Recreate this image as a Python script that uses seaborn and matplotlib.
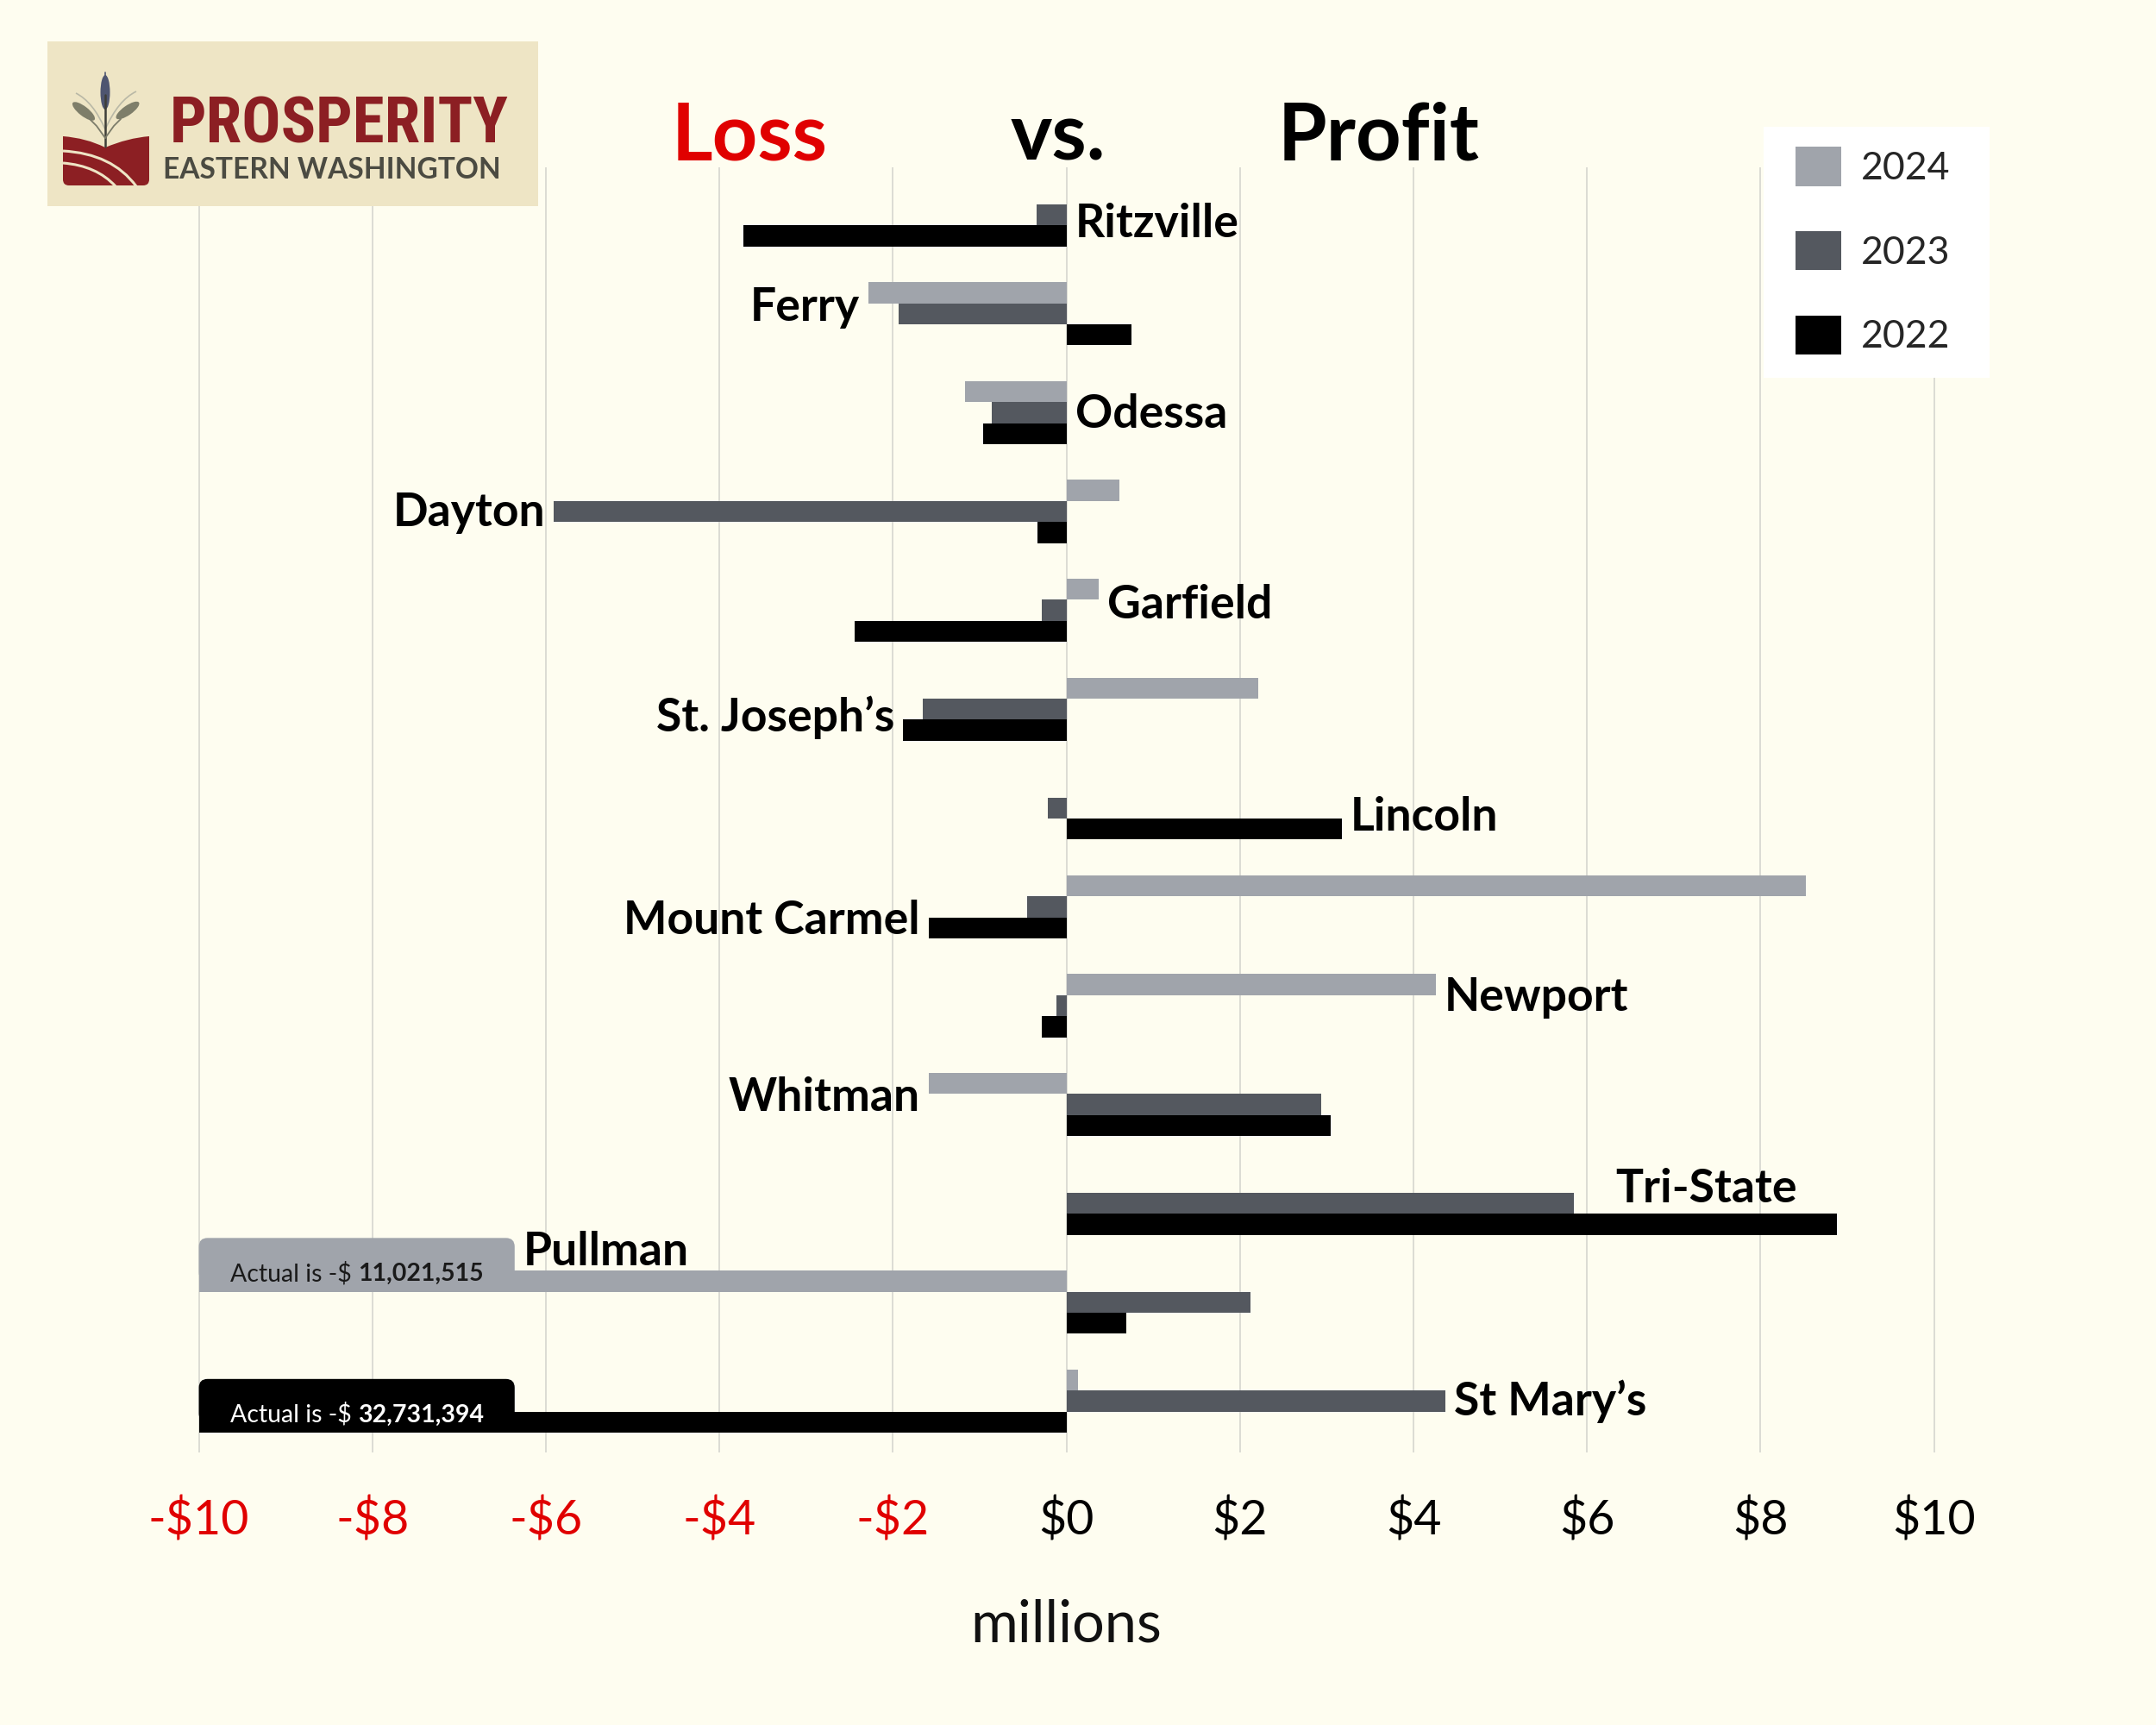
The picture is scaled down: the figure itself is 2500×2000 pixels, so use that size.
import numpy as np
import pandas as pd
import matplotlib
matplotlib.use("Agg")
import matplotlib.pyplot as plt
import seaborn as sns
from matplotlib import font_manager
from matplotlib.patches import FancyBboxPatch, Rectangle, Ellipse, PathPatch
from matplotlib.path import Path

# ---------------- data ----------------
categories = ["Ritzville", "Ferry", "Odessa", "Dayton", "Garfield", "St. Joseph\u2019s",
              "Lincoln", "Mount Carmel", "Newport", "Whitman", "Tri-State", "Pullman",
              "St Mary\u2019s"]
years = ["2024", "2023", "2022"]
# values in millions of dollars
values_2024 = [0.0, -2.28, -1.17, 0.61, 0.37, 2.21, 0.0, 8.52, 4.26, -1.59, 0.0, -11.021515, 0.13]
values_2023 = [-0.34, -1.93, -0.86, -5.91, -0.28, -1.66, -0.21, -0.45, -0.12, 2.94, 5.85, 2.12, 4.37]
values_2022 = [-3.72, 0.75, -0.96, -0.33, -2.44, -1.88, 3.17, -1.59, -0.28, 3.05, 8.88, 0.69, -32.731394]
x_ticks = [-10, -8, -6, -4, -2, 0, 2, 4, 6, 8, 10]
tick_labels = ["-$10", "-$8", "-$6", "-$4", "-$2", "$0", "$2", "$4", "$6", "$8", "$10"]
x_label = "millions"
title_words = ["Loss", "vs.", "Profit"]
logo_title = "PROSPERITY"
logo_subtitle = "EASTERN WASHINGTON"
callout_prefix = "Actual is -$ "

# ---------------- style ----------------
X_FLOOR = -10.0
BG = "#FEFDF0"
RED = "#E00000"
palette = {"2024": "#A0A4AB", "2023": "#54585F", "2022": "#000000"}
sns.set_style("white")
plt.rcParams["font.family"] = ["Lato", "DejaVu Sans"]


def pick_condensed():
    names = {f.name for f in font_manager.fontManager.ttflist}
    for n in ["Roboto Condensed", "Open Sans Condensed", "Liberation Sans Narrow",
              "Noto Sans Condensed", "DejaVu Sans Condensed"]:
        if n in names:
            return font_manager.FontProperties(family=n, weight="bold")
    for f in font_manager.fontManager.ttflist:
        if f.name == "DejaVu Sans" and f.stretch == "condensed":
            return font_manager.FontProperties(family="DejaVu Sans", stretch="condensed",
                                               weight="bold")
    return font_manager.FontProperties(family="Roboto", weight="bold")


series = {"2024": values_2024, "2023": values_2023, "2022": values_2022}
rows = []
for y in years:
    for c, v in zip(categories, series[y]):
        rows.append({"category": c, "year": y, "value": v, "shown": max(v, X_FLOOR)})
df = pd.DataFrame(rows)

W, H = 2500, 2000
fig = plt.figure(figsize=(25, 20), dpi=100, facecolor=BG)
ax = fig.add_axes([200.4 / W, 1 - 1684 / H, 2072.4 / W, 1489.8 / H])
ax.set_facecolor(BG)

sns.barplot(data=df, y="category", x="shown", hue="year", order=categories, hue_order=years,
            palette=palette, orient="h", width=0.64, dodge=True, saturation=1,
            errorbar=None, linewidth=0, ax=ax, zorder=2)

ax.set_xlim(-10.3, 10.3)
ax.set_ylim(len(categories) - 1 + 0.52, -0.48)
for s in ax.spines.values():
    s.set_visible(False)
ax.set_xticks(x_ticks)
ax.set_xticklabels(tick_labels, fontsize=40)
for t, v in zip(ax.get_xticklabels(), x_ticks):
    t.set_color(RED if v < 0 else "black")
ax.tick_params(axis="x", length=0, pad=38)
ax.set_yticks([])
ax.set_ylabel("")
ax.set_xlabel(x_label, fontsize=48, labelpad=46, color="#111111")
ax.grid(axis="x", color="#D9D9D2", linewidth=1.3, zorder=0)
ax.grid(axis="y", visible=False)
ax.set_axisbelow(True)

# legend
handles, labels = ax.get_legend_handles_labels()
if ax.get_legend() is not None:
    ax.get_legend().remove()
ax.add_patch(Rectangle((2045 / W, 1 - 438 / H), 262 / W, 291 / H, transform=fig.transFigure,
                       facecolor="white", edgecolor="none", clip_on=False, zorder=4))
leg = ax.legend(handles, labels, loc="upper left", bbox_to_anchor=(2082 / W, 1 - 170 / H),
                bbox_transform=fig.transFigure, frameon=False, fontsize=32, handlelength=1.2,
                handleheight=1.2, labelspacing=1.17, borderpad=0, handletextpad=0.5,
                borderaxespad=0)
leg.set_zorder(5)

# bar geometry from the drawn containers
bars = {y: list(ax.containers[i]) for i, y in enumerate(years)}

# callouts for truncated bars
CALLOUT_W = 3.64
x_per_px = 20.6 / 2072.4
y_per_px = 13.0 / 1489.8
for y in years:
    for i, v in enumerate(series[y]):
        if v < X_FLOOR:
            r = bars[y][i]
            top = r.get_y()
            h = r.get_height()
            box_top = top - 0.33
            dark = palette[y] == "#000000"
            box = FancyBboxPatch((X_FLOOR, box_top), CALLOUT_W, (top + h / 2) - box_top,
                                 boxstyle="round,pad=0,rounding_size=0.1",
                                 mutation_aspect=y_per_px / x_per_px,
                                 facecolor=palette[y], edgecolor="none", zorder=1.9)
            ax.add_patch(box)
            tc = "white" if dark else "#1A1A1A"
            t1 = ax.text(X_FLOOR + 0.36, top + 0.03, callout_prefix, fontsize=20.5, color=tc,
                         ha="left", va="center", zorder=6)
            ax.annotate(f"{abs(round(v * 1e6)):,}", xy=(1, 0), xycoords=t1, xytext=(0, 0),
                        textcoords="offset points", ha="left", va="bottom", fontsize=20.5,
                        fontweight="bold", color=tc, zorder=6)

# category labels next to bars
label_anchor = ["zero", "2024", "zero", "2023", "2024", "2022", "2022", "2022", "2024", "2024",
                "2022", "callout", "2023"]
label_side = ["right", "left", "right", "left", "right", "left", "right", "left", "right",
              "left", "inside", "right", "right"]
label_dy = [0.09, -0.06, 0.02, 0.01, -0.05, 0.08, 0.09, 0.14, -0.08, -0.07, -0.15, -0.51, 0.0]
PAD = 0.1
for i, c in enumerate(categories):
    a = label_anchor[i]
    if a == "zero":
        xa = 0.0
    elif a == "callout":
        xa = X_FLOOR + CALLOUT_W
    else:
        xa = bars[a][i].get_width()
    side = label_side[i]
    if side == "right":
        xt, ha = xa + PAD, "left"
    elif side == "left":
        xt, ha = xa - PAD, "right"
    else:
        xt, ha = xa - 0.46, "right"
    ax.text(xt, i + label_dy[i], c, fontsize=38.5, fontweight="bold", ha=ha, va="center",
            color="black", zorder=6)

# title words
title_x = [869, 1227, 1599]
title_c = [RED, "black", "black"]
for w, xx, cc in zip(title_words, title_x, title_c):
    fig.text(xx / W, 1 - 159 / H, w, fontsize=66, fontweight="bold", color=cc,
             ha="center", va="center")

# ---------------- logo ----------------
LOGO_BG = "#EEE5C5"
lax = fig.add_axes([55 / W, 1 - 239 / H, 569 / W, 191 / H], zorder=10)
lax.set_xlim(55, 624)
lax.set_ylim(239, 48)
lax.set_facecolor(LOGO_BG)
lax.set_xticks([])
lax.set_yticks([])
for s in lax.spines.values():
    s.set_visible(False)
LOGO_RED = "#8C1F23"
fig.canvas.draw()
renderer = fig.canvas.get_renderer()


def fit_text(x0, x1, ybase, s, fp, color, fs0):
    t = lax.text(x0, ybase, s, fontproperties=fp, color=color, ha="left", va="baseline")
    t.set_fontsize(fs0)
    wpx = t.get_window_extent(renderer).width
    t.set_fontsize(fs0 * (x1 - x0) / wpx)
    return t


fit_text(197, 591, 166, logo_title, pick_condensed(), LOGO_RED, 50)
fit_text(189, 581, 207, logo_subtitle,
         font_manager.FontProperties(family=["Lato", "DejaVu Sans"], weight="bold"),
         "#4B4B42", 24)

# field icon
field = Path([(73, 158), (100, 160), (122, 171), (148, 160), (173, 158),
              (173, 208), (173, 215), (166, 215),
              (80, 215), (73, 215), (73, 208), (73, 158)],
             [Path.MOVETO, Path.CURVE3, Path.CURVE3, Path.CURVE3, Path.CURVE3,
              Path.LINETO, Path.CURVE3, Path.CURVE3,
              Path.LINETO, Path.CURVE3, Path.CURVE3, Path.CLOSEPOLY])
lax.add_patch(PathPatch(field, facecolor=LOGO_RED, edgecolor="none"))
for (p0, p1, p2) in [((73, 175), (130, 178), (158, 216)), ((73, 189), (112, 192), (134, 216))]:
    lax.add_patch(PathPatch(Path([p0, p1, p2], [Path.MOVETO, Path.CURVE3, Path.CURVE3]),
                            facecolor="none", edgecolor=LOGO_BG, lw=2.2))
# wheat
lax.plot([122, 122], [170, 110], color="#3E3E38", lw=1.8)
for (x0, y0, x1, y1) in [(122, 150, 88, 108), (122, 150, 158, 106)]:
    lax.add_patch(PathPatch(Path([(x0, y0), ((x0 + x1) / 2 + (3 if x1 < x0 else -3), y1 + 10), (x1, y1)],
                                 [Path.MOVETO, Path.CURVE3, Path.CURVE3]),
                            facecolor="none", edgecolor="#B9B8A6", lw=1.2))
lax.plot([122, 112, 104], [160, 146, 138], color="#7C7C6A", lw=1.3)
lax.plot([122, 132, 140], [160, 146, 138], color="#7C7C6A", lw=1.3)
for (cx, cy, w, h, ang, col) in [(122, 107, 40, 11, 90, "#4E5570"),
                                 (97, 129, 32, 11, 38, "#7E7E6A"),
                                 (148, 128, 32, 11, -35, "#7E7E6A")]:
    lax.add_patch(Ellipse((cx, cy), w, h, angle=ang, facecolor=col, edgecolor="none"))
lax.plot([122, 122], [84, 90], color="#4E5570", lw=1.2)

fig.savefig("out.png", dpi=100, facecolor=BG)
